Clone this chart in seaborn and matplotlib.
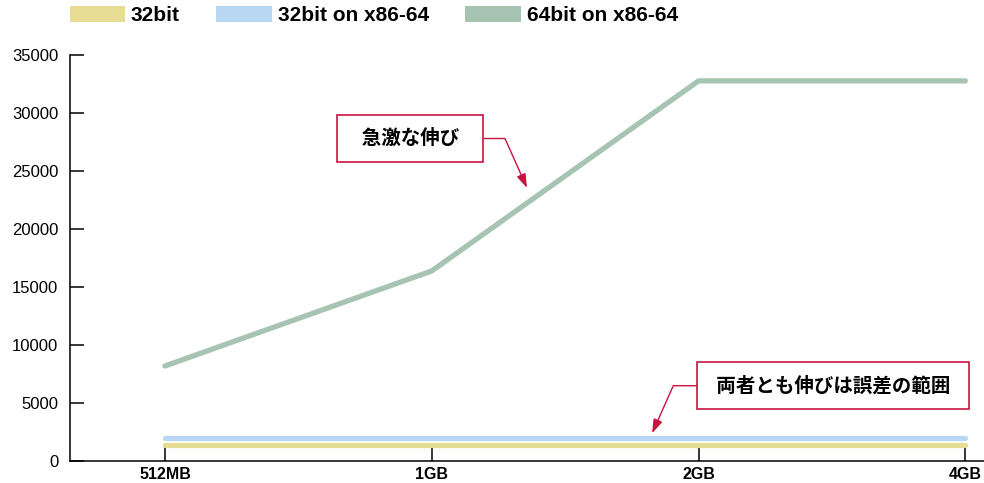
import matplotlib
matplotlib.use("Agg")
import matplotlib.pyplot as plt
from matplotlib.patches import Patch
import seaborn as sns
import pandas as pd

memory = ["512MB", "1GB", "2GB", "4GB"]
series_names = ["32bit", "32bit on x86-64", "64bit on x86-64"]
vals_32 = [1350, 1350, 1350, 1350]
vals_32_on_64 = [1990, 1990, 1990, 1990]
vals_64 = [8192, 16384, 32768, 32768]
y_ticks = [0, 5000, 10000, 15000, 20000, 25000, 30000, 35000]
note_jump = "急激な伸び"
note_flat = "両者とも伸びは誤差の範囲"

colors = ["#e6dc93", "#b7d7f2", "#a6c4b1"]
accent = "#c8143f"

sns.set_theme(style="white")
plt.rcParams["font.family"] = ["Liberation Sans", "Noto Sans CJK JP", "DejaVu Sans"]
plt.rcParams["text.color"] = "black"

df = pd.DataFrame({
    "memory": memory * 3,
    "value": vals_32 + vals_32_on_64 + vals_64,
    "series": [series_names[0]] * 4 + [series_names[1]] * 4 + [series_names[2]] * 4,
})

fig = plt.figure(figsize=(9.84, 4.83), dpi=100)
ax = fig.add_axes([70 / 984, 22 / 483, 914 / 984, 406 / 483])

sns.lineplot(data=df, x="memory", y="value", hue="series", hue_order=series_names,
             palette=colors, sort=False, linewidth=3.8, legend=False, ax=ax,
             solid_capstyle="round")

ax.set_xlim(-0.356, 3.07)
ax.set_ylim(0, 35000)
ax.set_yticks(y_ticks)
ax.set_yticklabels([str(v) for v in y_ticks], fontsize=12)
ax.set_xticks(range(len(memory)))
ax.set_xticklabels(memory, fontsize=11.5, fontweight="bold")
ax.set_xlabel("")
ax.set_ylabel("")
for s in ["top", "right"]:
    ax.spines[s].set_visible(False)
for s in ["left", "bottom"]:
    ax.spines[s].set_color("black")
    ax.spines[s].set_linewidth(1.1)
ax.tick_params(axis="y", left=True, direction="in", length=10, width=1.1, color="black",
               pad=8.5, labelcolor="black")
ax.tick_params(axis="x", bottom=True, direction="in", length=10, width=1.1, color="black",
               pad=4, labelcolor="black")
ax.grid(False)

handles = [Patch(facecolor=c, edgecolor="none") for c in colors]
fig.legend(handles, series_names, loc="upper left", bbox_to_anchor=(57 / 984, 1.014),
           ncol=3, frameon=False, handlelength=2.65, handleheight=0.85,
           handletextpad=0.3, columnspacing=1.75, borderaxespad=0.2,
           labelcolor="black",
           prop={"family": ["Liberation Sans"], "weight": "bold", "size": 15})

box = dict(boxstyle="square,pad=0.7", facecolor="white", edgecolor=accent, linewidth=1.2)
arrow = dict(arrowstyle="-|>,head_length=0.6,head_width=0.2", color=accent, linewidth=1.0,
             shrinkA=0, shrinkB=0)

ax.annotate("  " + note_jump + "  ", xy=(1.357, 23540), xytext=(0.919, 27800),
            textcoords="data", ha="center", va="center", fontsize=14, fontweight="bold",
            color="black",
            bbox=box, arrowprops=dict(arrow, connectionstyle="angle,angleA=0,angleB=114,rad=0"))
ax.annotate(" " + note_flat + " ", xy=(1.826, 2390), xytext=(2.505, 6490),
            textcoords="data", ha="center", va="center", fontsize=14, fontweight="bold",
            color="black",
            bbox=box, arrowprops=dict(arrow, connectionstyle="angle,angleA=0,angleB=66,rad=0"))

fig.savefig("out.png", dpi=100)
